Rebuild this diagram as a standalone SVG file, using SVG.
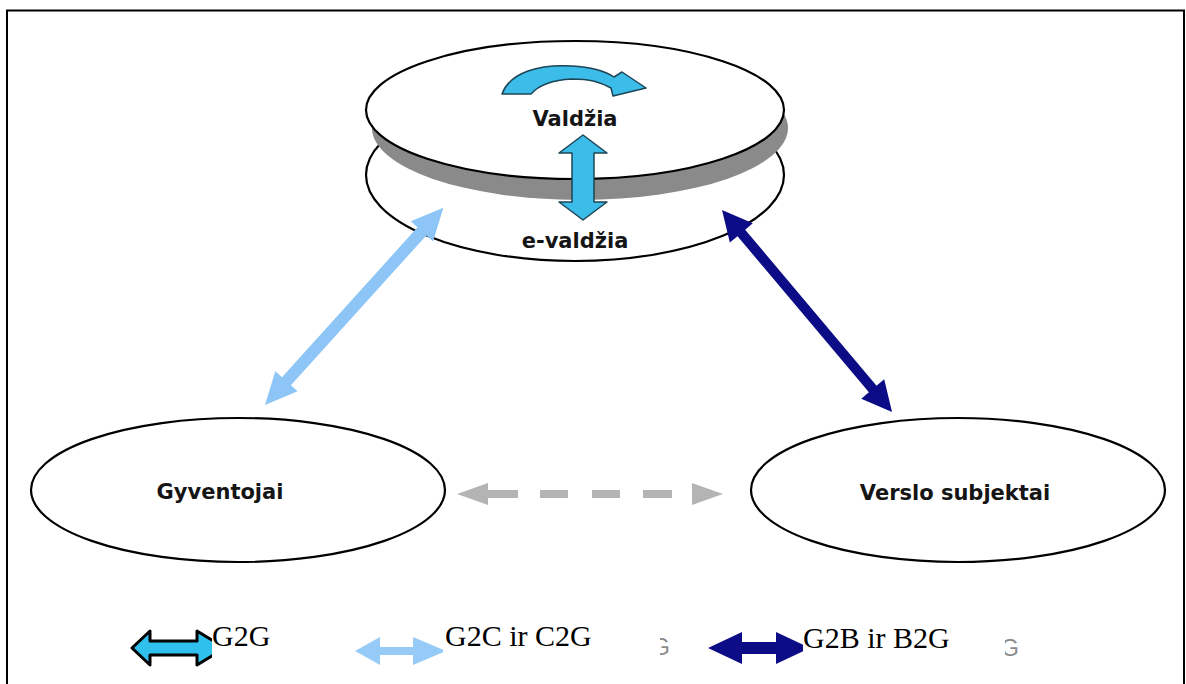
<svg xmlns="http://www.w3.org/2000/svg" width="1186" height="684" viewBox="0 0 1186 684">
<style>
.node{fill:#fff;stroke:#000;stroke-width:2.2}
.lbl{font-family:"DejaVu Sans",Verdana,sans-serif;font-weight:bold;font-size:21px;fill:#151515;text-anchor:middle}
.leg{font-family:"Liberation Serif","Times New Roman",serif;font-size:30px;fill:#000}
.ghost{font-family:"Liberation Sans",Arial,sans-serif;font-size:23px;fill:#8a8a8a;text-anchor:end}
.cyan{fill:#3bbce9;stroke:#1d4556;stroke-width:1.5;stroke-linejoin:round}
.lblue{fill:#8cc5f6}
.navy{fill:#0c0c86}
.box{fill:#fff}
</style>
<rect width="1186" height="684" fill="#fff"/>
<path d="M7,684 V10.5 H1184 V684" fill="none" stroke="#000" stroke-width="2"/>

<g id="node-evaldzia">
  <ellipse class="node" cx="575" cy="175" rx="209" ry="86"/>
  <text class="lbl" x="575" y="248">e-valdžia</text>
</g>
<g id="node-valdzia">
  <ellipse cx="580" cy="128" rx="208" ry="72" fill="#8a8a8a"/>
  <ellipse class="node" cx="575" cy="110" rx="209" ry="69"/>
  <path class="cyan" d="M502,94 C510,72 540,64 572,66 C592,67 605,71 614,77 L622,72 L646,88 L613,96 L611,88 C600,82 590,79 572,79 C552,80 538,86 531,94 Z" stroke="#1f6d8f" stroke-width="1"/>
  <text class="lbl" x="575" y="126">Valdžia</text>
</g>
<g id="node-gyventojai">
  <ellipse class="node" cx="238" cy="490" rx="207" ry="72"/>
  <text class="lbl" x="220" y="499">Gyventojai</text>
</g>
<g id="node-verslo">
  <ellipse class="node" cx="958" cy="490" rx="207" ry="72"/>
  <text class="lbl" x="955" y="500">Verslo subjektai</text>
</g>

<g id="connectors">
  <polygon class="cyan" points="583,135 607,153 594,153 594,202 607,202 583,220 559,202 572,202 572,153 559,153"/>
  <polygon class="lblue" transform="translate(265,405) rotate(-47.9)" points="0,0 32,-15 32,-6 234,-6 234,-15 266,0 234,15 234,6 32,6 32,15"/>
  <polygon class="navy" transform="translate(722,210) rotate(49.9)" points="0,0 30,-15 30,-5 234,-5 234,-15 264,0 234,15 234,5 30,5 30,15"/>
  <g fill="#b4b4b4">
    <polygon points="457,494 488,483 488,505"/>
    <path d="M487,494 H672" stroke="#b4b4b4" stroke-width="8" stroke-dasharray="31 22 28 24 28 23 29 999"/>
    <polygon points="692,483 723,494 692,505"/>
  </g>
</g>

<g id="legend">
  <polygon points="132,648 150,631 150,641 197,641 197,631 225,648 197,665 197,655 150,655 150,665" fill="#2fc0ee" stroke="#000" stroke-width="3" stroke-linejoin="round"/>
  <polygon class="lblue" points="355,651 380,637 380,647 413,647 413,637 446,651 413,665 413,655 380,655 380,665" fill-opacity="0.9"/>
  <polygon class="navy" points="708,648 742,632 742,642 776,642 776,632 810,648 776,664 776,654 742,654 742,664"/>
  <text class="ghost" x="670" y="655">G</text>
  <text class="ghost" x="1019" y="656">G</text>
  <rect class="box" x="212" y="614" width="90" height="50"/>
  <rect class="box" x="443" y="615" width="217" height="52"/>
  <rect class="box" x="803" y="616" width="202" height="54"/>
  <text class="leg" x="212" y="646">G2G</text>
  <text class="leg" x="445" y="646">G2C ir C2G</text>
  <text class="leg" x="803" y="648">G2B ir B2G</text>
</g>
</svg>
